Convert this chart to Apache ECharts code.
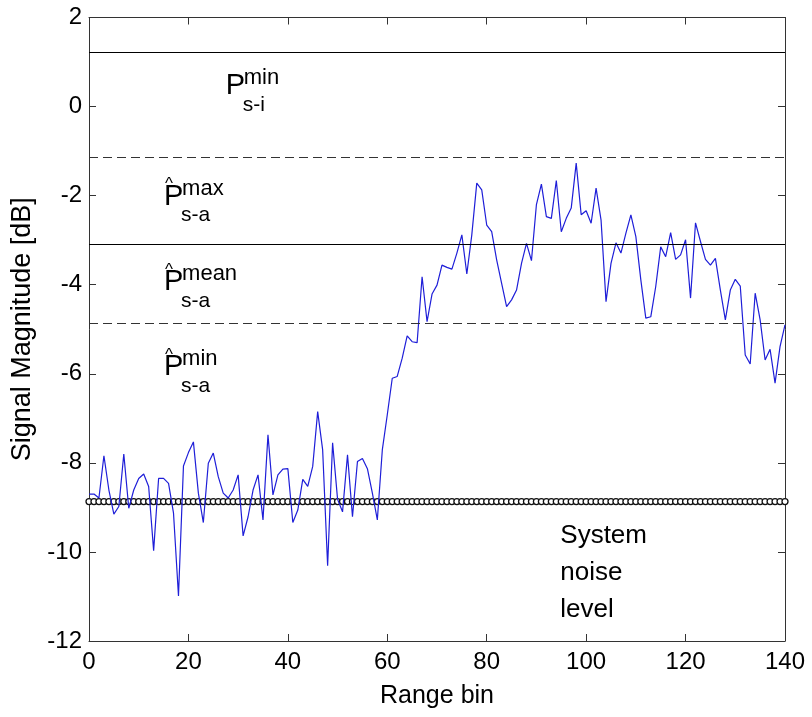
<!DOCTYPE html>
<html>
<head>
<meta charset="utf-8">
<script src="https://cdn.jsdelivr.net/npm/echarts@6/dist/echarts.min.js"></script>
<style>
html,body{margin:0;padding:0;background:#fff;}
#chart{width:812px;height:717px;}
</style>
</head>
<body>
<div id="chart"></div>
<script>
// Measured signal (dB) per range bin 0..140
const signalValues = [
 -8.70,-8.70,-8.79,-7.84,-8.61,-9.15,-8.98,-7.80,-9.02,-8.61,
 -8.35,-8.25,-8.53,-9.97,-8.35,-8.35,-8.46,-9.13,-10.99,-8.07,
 -7.77,-7.53,-8.68,-9.34,-8.01,-7.78,-8.31,-8.68,-8.79,-8.61,
 -8.27,-9.64,-9.21,-8.61,-8.27,-9.28,-7.37,-8.72,-8.27,-8.14,
 -8.13,-9.34,-9.06,-8.37,-8.53,-8.08,-6.85,-7.71,-10.31,-7.55,
 -8.82,-9.10,-7.82,-9.21,-7.97,-7.90,-8.13,-8.68,-9.28,-7.71,
 -6.92,-6.10,-6.06,-5.65,-5.15,-5.28,-5.30,-3.82,-4.83,-4.21,
 -4.01,-3.56,-3.61,-3.65,-3.29,-2.88,-3.76,-2.88,-1.72,-1.87,
 -2.66,-2.81,-3.44,-3.97,-4.49,-4.34,-4.12,-3.52,-3.07,-3.46,
 -2.20,-1.74,-2.47,-2.51,-1.66,-2.81,-2.51,-2.28,-1.27,-2.43,
 -2.34,-2.62,-1.83,-2.55,-4.38,-3.52,-3.06,-3.29,-2.84,-2.43,
 -2.92,-3.89,-4.75,-4.72,-4.04,-3.15,-3.37,-2.83,-3.43,-3.33,
 -2.99,-4.30,-2.61,-3.03,-3.43,-3.56,-3.41,-4.12,-4.79,-4.12,
 -3.88,-4.03,-5.58,-5.78,-4.19,-4.79,-5.69,-5.45,-6.21,-5.39,
 -4.90
];
// System noise level (dB), one marker per range bin
const noiseLevel = -8.87;
// Threshold levels (dB)
const solidLevels = [1.22, -3.10];   // P_s-i^min, P^_s-a^mean
const dashedLevels = [-1.13, -4.86]; // P^_s-a^max, P^_s-a^min
// Axis ticks
const xTicks = {min: 0, max: 140, step: 20};
const yTicks = {min: -12, max: 2, step: 2};

const FONT = '"Liberation Sans", Arial, Helvetica, sans-serif';
const signalData = signalValues.map((v, i) => [i, v]);
const noiseData = signalValues.map((v, i) => [i, noiseLevel]);

const chart = echarts.init(document.getElementById('chart'), null, {renderer: 'canvas'});

const axisLine = {show: true, onZero: false, lineStyle: {color: '#333', width: 1}};
const tick = {show: true, inside: true, length: 7, lineStyle: {color: '#333', width: 1}};

const option = {
  animation: false,
  backgroundColor: '#fff',
  grid: {left: 89, right: 27, top: 17.5, bottom: 76, containLabel: false},
  xAxis: [{
    type: 'value', min: xTicks.min, max: xTicks.max, interval: xTicks.step,
    position: 'bottom',
    axisLine: axisLine, axisTick: tick, splitLine: {show: false},
    axisLabel: {color: '#000', fontSize: 24, fontFamily: FONT, margin: 9},
    name: 'Range bin', nameLocation: 'middle', nameGap: 43,
    nameTextStyle: {color: '#000', fontSize: 25, fontFamily: FONT}
  }, {
    type: 'value', min: xTicks.min, max: xTicks.max, interval: xTicks.step,
    position: 'top',
    axisLine: axisLine, axisTick: tick, splitLine: {show: false},
    axisLabel: {show: false}
  }],
  yAxis: [{
    type: 'value', min: yTicks.min, max: yTicks.max, interval: yTicks.step,
    position: 'left',
    axisLine: axisLine, axisTick: tick, splitLine: {show: false},
    axisLabel: {color: '#000', fontSize: 24, fontFamily: FONT, margin: 7},
    name: 'Signal Magnitude [dB]', nameLocation: 'middle', nameGap: 50,
    nameRotate: 90,
    nameTextStyle: {color: '#000', fontSize: 27, fontFamily: FONT}
  }, {
    type: 'value', min: yTicks.min, max: yTicks.max, interval: yTicks.step,
    position: 'right',
    axisLine: axisLine, axisTick: tick, splitLine: {show: false},
    axisLabel: {show: false}
  }],
  series: [{
    name: 'levels', type: 'line', data: [], silent: true,
    markLine: {
      silent: true, symbol: ['none', 'none'], animation: false,
      label: {show: false},
      emphasis: {disabled: true},
      data: solidLevels.map(v => ({yAxis: v, lineStyle: {color: '#000', width: 1, type: 'solid'}}))
        .concat(dashedLevels.map(v => ({yAxis: v, lineStyle: {color: '#333', width: 1, type: [9, 5]}})))
    }
  }, {
    name: 'noise', type: 'line', data: noiseData,
    symbol: 'circle', symbolSize: 6, showSymbol: true,
    lineStyle: {width: 0, opacity: 0},
    itemStyle: {color: '#fff', borderColor: '#111', borderWidth: 1.3},
    z: 3
  }, {
    name: 'signal', type: 'line', data: signalData,
    symbol: 'none', smooth: false,
    lineStyle: {color: '#1e1ed8', width: 1.2},
    z: 4
  }]
};
chart.setOption(option);

// Annotations (placed at data coordinates)
function pLabel(bin, val, sup, sub, hat) {
  const p = chart.convertToPixel({xAxisIndex: 0, yAxisIndex: 0}, [bin, val]);
  const children = [
    {type: 'text', x: 0, y: 0, style: {text: 'P', font: '29px ' + FONT, fill: '#000', verticalAlign: 'middle', align: 'left'}},
    {type: 'text', x: 18, y: -8, style: {text: sup, font: '22px ' + FONT, fill: '#000', verticalAlign: 'middle', align: 'left'}},
    {type: 'text', x: 17, y: 19, style: {text: sub, font: '21px ' + FONT, fill: '#000', verticalAlign: 'middle', align: 'left'}}
  ];
  if (hat) {
    children.push({type: 'text', x: 1, y: -12, style: {text: '^', font: '17px ' + FONT, fill: '#000', verticalAlign: 'middle', align: 'left'}});
  }
  return {type: 'group', x: p[0], y: p[1], children: children, silent: true};
}
const noisePos = chart.convertToPixel({xAxisIndex: 0, yAxisIndex: 0}, [94.8, -9.23]);
chart.setOption({
  graphic: [
    pLabel(27.5, 0.46, 'min', 's-i', false),
    pLabel(15.1, -2.02, 'max', 's-a', true),
    pLabel(15.1, -3.94, 'mean', 's-a', true),
    pLabel(15.1, -5.85, 'min', 's-a', true),
    {type: 'text', x: noisePos[0], y: noisePos[1], silent: true,
     style: {text: 'System\nnoise\nlevel', font: '26px ' + FONT, fill: '#000', lineHeight: 37, verticalAlign: 'top', align: 'left'}}
  ]
});
</script>
</body>
</html>
